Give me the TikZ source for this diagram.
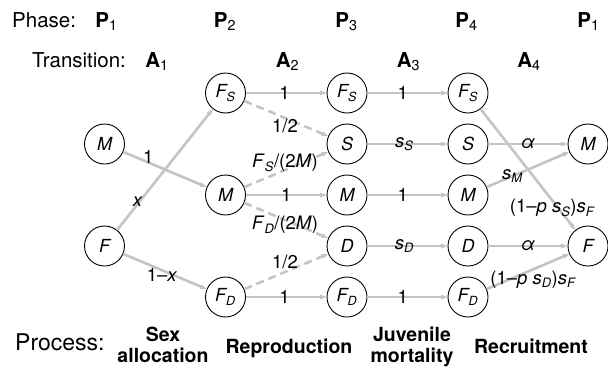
\documentclass[tikz,border=0pt]{standalone}
\usepackage{fontspec}
\setmainfont{TeX Gyre Heros}
\usetikzlibrary{arrows.meta}
\definecolor{lg}{RGB}{196,196,196}
\newcommand{\sbi}[1]{\textsubscript{\itshape #1}}
\newcommand{\sbu}[1]{\textsubscript{#1}}
\begin{document}
\begin{tikzpicture}[x=1pt,y=-1pt,
  st/.style={circle,draw=black,line width=0.9pt,minimum size=40pt,inner sep=0pt,fill=white,font=\fontsize{18}{20}\selectfont\itshape},
  ar/.style={draw=lg,line width=2.6pt,-{Stealth[length=12pt,width=9pt,inset=7.5pt]}},
  dsh/.style={ar,dash pattern=on 8pt off 5pt},
  lab/.style={font=\fontsize{18.5}{20}\selectfont,inner sep=0pt,text=black},
  hdr/.style={font=\fontsize{20.5}{24}\selectfont,inner sep=0pt},
  proc/.style={font=\fontsize{19.5}{20.5}\selectfont\bfseries,align=center,inner sep=0pt}]
\useasboundingbox (0,0) rectangle (608,370);

% headers
\node[hdr,anchor=base west] (phase) at (12,27) {Phase:};
\node[hdr,anchor=base] (p1) at (106.5,27) {\textbf{P}\sbu{1}};
\node[hdr,anchor=base] (p2) at (225,27) {\textbf{P}\sbu{2}};
\node[hdr,anchor=base] (p3) at (346.5,27) {\textbf{P}\sbu{3}};
\node[hdr,anchor=base] (p4) at (466.5,27) {\textbf{P}\sbu{4}};
\node[hdr,anchor=base] (p5) at (588.5,27) {\textbf{P}\sbu{1}};
\node[hdr,anchor=base west] (trans) at (32,67) {Transition:};
\node[hdr,anchor=base] (a1) at (157,67) {\textbf{A}\sbu{1}};
\node[hdr,anchor=base] (a2) at (287.5,67) {\textbf{A}\sbu{2}};
\node[hdr,anchor=base] (a3) at (408.5,67) {\textbf{A}\sbu{3}};
\node[hdr,anchor=base] (a4) at (529,67) {\textbf{A}\sbu{4}};

% states
\node[st] (m1) at (104.5,144) {M};
\node[st] (f1) at (104.5,246) {F};
\node[st] (fs2) at (225.5,93) {F\sbi{S}};
\node[st] (m2) at (225.5,195) {M};
\node[st] (fd2) at (225.5,297) {F\sbi{D}};
\node[st] (fs3) at (347,93) {F\sbi{S}};
\node[st] (s3) at (347,144) {S};
\node[st] (m3) at (347,195) {M};
\node[st] (d3) at (347,246) {D};
\node[st] (fd3) at (347,297) {F\sbi{D}};
\node[st] (fs4) at (468,93) {F\sbi{S}};
\node[st] (s4) at (468,144) {S};
\node[st] (m4) at (468,195) {M};
\node[st] (d4) at (468,246) {D};
\node[st] (fd4) at (468,297) {F\sbi{D}};
\node[st] (m5) at (588,144) {M};
\node[st] (f5) at (588,246) {F};

% A1
\draw[ar] (m1) -- node[lab,pos=0.30,yshift=6pt] (l1) {1} (m2);
\draw[ar] (f1) -- node[lab,pos=0.233,xshift=-2pt] (l2) {\itshape x} (fs2);
\draw[ar] (f1) -- node[lab,pos=0.464,yshift=-5pt] (l3) {1\textendash\textit{x}} (fd2);
% A2
\draw[ar] (fs2) -- node[lab,pos=0.48] (l4) {1} (fs3);
\draw[dsh] (fs2) -- node[lab,pos=0.485,yshift=-8pt] (l5) {1/2} (s3);
\draw[dsh] (m2) -- node[lab,pos=0.485,yshift=7pt] (l6) {\textit{F}\sbi{S}/(2\textit{M})} (s3);
\draw[ar] (m2) -- node[lab,pos=0.5] (l7) {1} (m3);
\draw[dsh] (m2) -- node[lab,pos=0.485,yshift=-5pt] (l8) {\textit{F}\sbi{D}/(2\textit{M})} (d3);
\draw[dsh] (fd2) -- node[lab,pos=0.485,yshift=10pt] (l9) {1/2} (d3);
\draw[ar] (fd2) -- node[lab,pos=0.48] (l10) {1} (fd3);
% A3
\draw[ar] (fs3) -- node[lab,pos=0.44] (l11) {1} (fs4);
\draw[ar] (s3) -- node[lab,pos=0.46] (l12) {\textit{s}\sbi{S}} (s4);
\draw[ar] (m3) -- node[lab,pos=0.44] (l13) {1} (m4);
\draw[ar] (d3) -- node[lab,pos=0.46] (l14) {\textit{s}\sbi{D}} (d4);
\draw[ar] (fd3) -- node[lab,pos=0.44] (l15) {1} (fd4);
% A4
\draw[ar] (fs4) -- node[lab,pos=0.817,xshift=-6pt] (l16) {(1\textendash\textit{p} \textit{s}\sbi{S})\textit{s}\sbi{F}} (f5);
\draw[ar] (s4) -- node[lab,pos=0.5] (l17) {\itshape α} (m5);
\draw[ar] (m4) -- node[lab,pos=0.31] (l18) {\textit{s}\sbi{M}} (m5);
\draw[ar] (d4) -- node[lab,pos=0.5] (l19) {\itshape α} (f5);
\draw[ar] (fd4) -- node[lab,pos=0.56,yshift=-10pt] (l20) {(1\textendash\textit{p} \textit{s}\sbi{D})\textit{s}\sbi{F}} (f5);

% process
\node[font=\fontsize{23}{26}\selectfont,inner sep=0pt,anchor=base west] (proc) at (15,350) {Process:};
\node[proc,anchor=base] (sa) at (163,362) {Sex\\allocation};
\node[proc,anchor=base] (rep) at (289,353) {Reproduction};
\node[proc,anchor=base] (jm) at (412,362) {Juvenile\\mortality};
\node[proc,anchor=base] (rec) at (531,353) {Recruitment};
\end{tikzpicture}
\end{document}
